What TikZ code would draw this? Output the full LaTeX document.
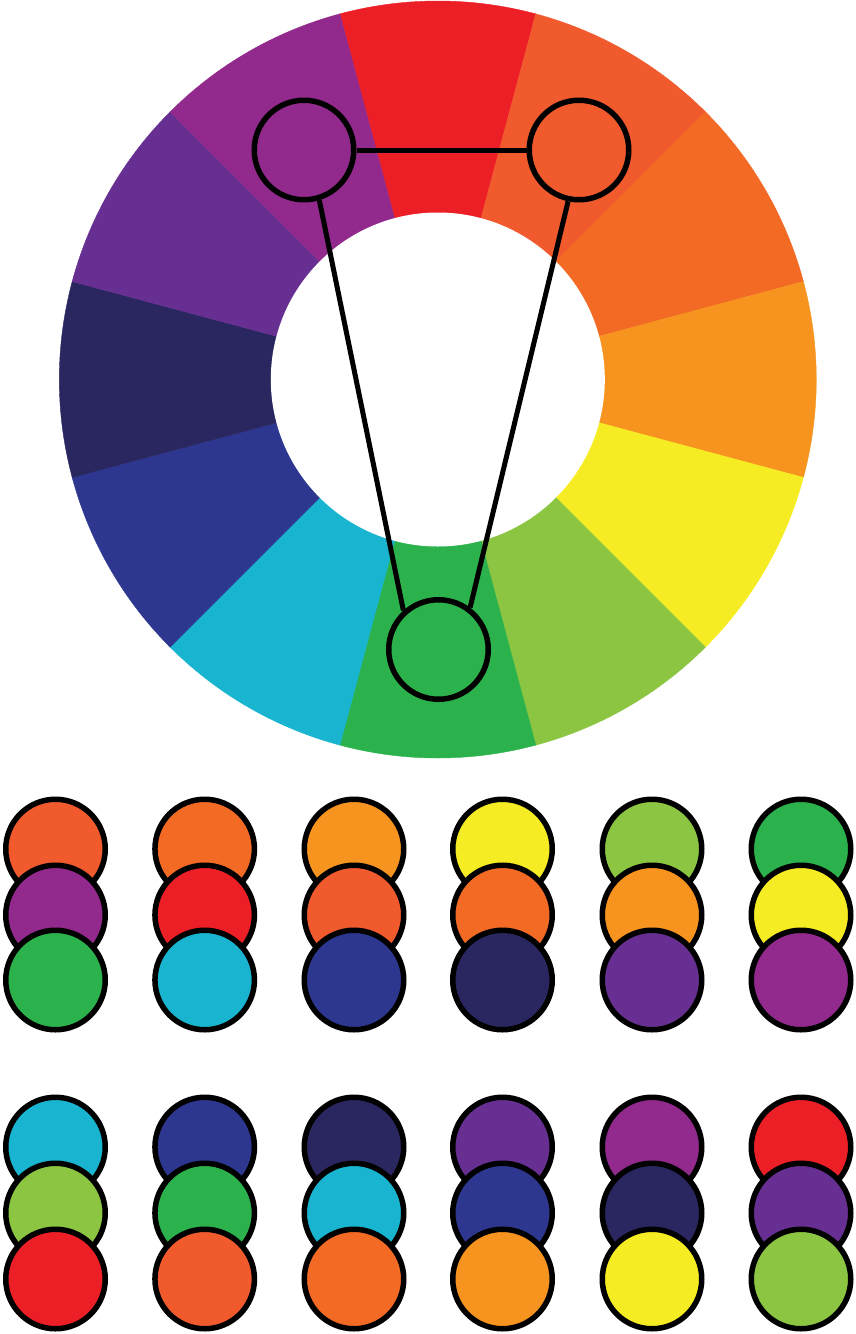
\documentclass[tikz,border=0pt]{standalone}
\definecolor{cRed}{HTML}{ED1F26}
\definecolor{cRedOr}{HTML}{F15A2D}
\definecolor{cOr}{HTML}{F26A24}
\definecolor{cLtOr}{HTML}{F7941F}
\definecolor{cYel}{HTML}{F6EC23}
\definecolor{cYGr}{HTML}{8CC541}
\definecolor{cGr}{HTML}{2BB24C}
\definecolor{cCy}{HTML}{18B4D0}
\definecolor{cBl}{HTML}{2E3790}
\definecolor{cNv}{HTML}{2A2660}
\definecolor{cVi}{HTML}{662F91}
\definecolor{cPu}{HTML}{92298C}
\begin{document}
\begin{tikzpicture}[x=1pt,y=-1pt,
  dot/.style={circle,draw=black,line width=5.5pt,minimum size=99.5pt,inner sep=0pt},
  link/.style={draw=black,line width=5pt}]
\useasboundingbox (0,0) rectangle (855,1334);
\coordinate (C) at (437.8,379.5);
% colour wheel
\foreach \s/\c in {-105/cRed,-75/cRedOr,-45/cOr,-15/cLtOr,15/cYel,45/cYGr,75/cGr,105/cCy,135/cBl,165/cNv,195/cVi,225/cPu}
  \filldraw[fill=\c,draw=\c,line width=0.4pt] (C) -- +(\s:378.5) arc[start angle=\s,delta angle=30,radius=378.5] -- cycle;
\fill[white] (C) circle[radius=167];
% triad
\node[dot,fill=cPu] (p) at (304,150) {};
\node[dot,fill=cRedOr] (o) at (579,150) {};
\node[dot,fill=cGr] (g) at (438.5,649.5) {};
\draw[link] (p.east) -- (o.west);
\draw[link] (p.-73) -- (g.132);
\draw[link] (o.-102) -- (g.53);
% swatches, first group
\foreach \x/\a/\b/\c [count=\i] in {55.5/cRedOr/cPu/cGr, 204.7/cOr/cRed/cCy, 354/cLtOr/cRedOr/cBl, 502.5/cYel/cOr/cNv, 652/cYGr/cLtOr/cVi, 801/cGr/cYel/cPu} {
  \node[dot,fill=\a] (a\i) at (\x,849) {};
  \node[dot,fill=\b] (b\i) at (\x,915) {};
  \node[dot,fill=\c] (c\i) at (\x,980) {};
}
% swatches, second group
\foreach \x/\a/\b/\c [count=\i] in {55.5/cCy/cYGr/cRed, 204.7/cBl/cGr/cRedOr, 354/cNv/cCy/cOr, 502.5/cVi/cBl/cLtOr, 652/cPu/cNv/cYel, 801/cRed/cVi/cYGr} {
  \node[dot,fill=\a] (d\i) at (\x,1147) {};
  \node[dot,fill=\b] (e\i) at (\x,1213) {};
  \node[dot,fill=\c] (f\i) at (\x,1279) {};
}
\end{tikzpicture}
\end{document}
